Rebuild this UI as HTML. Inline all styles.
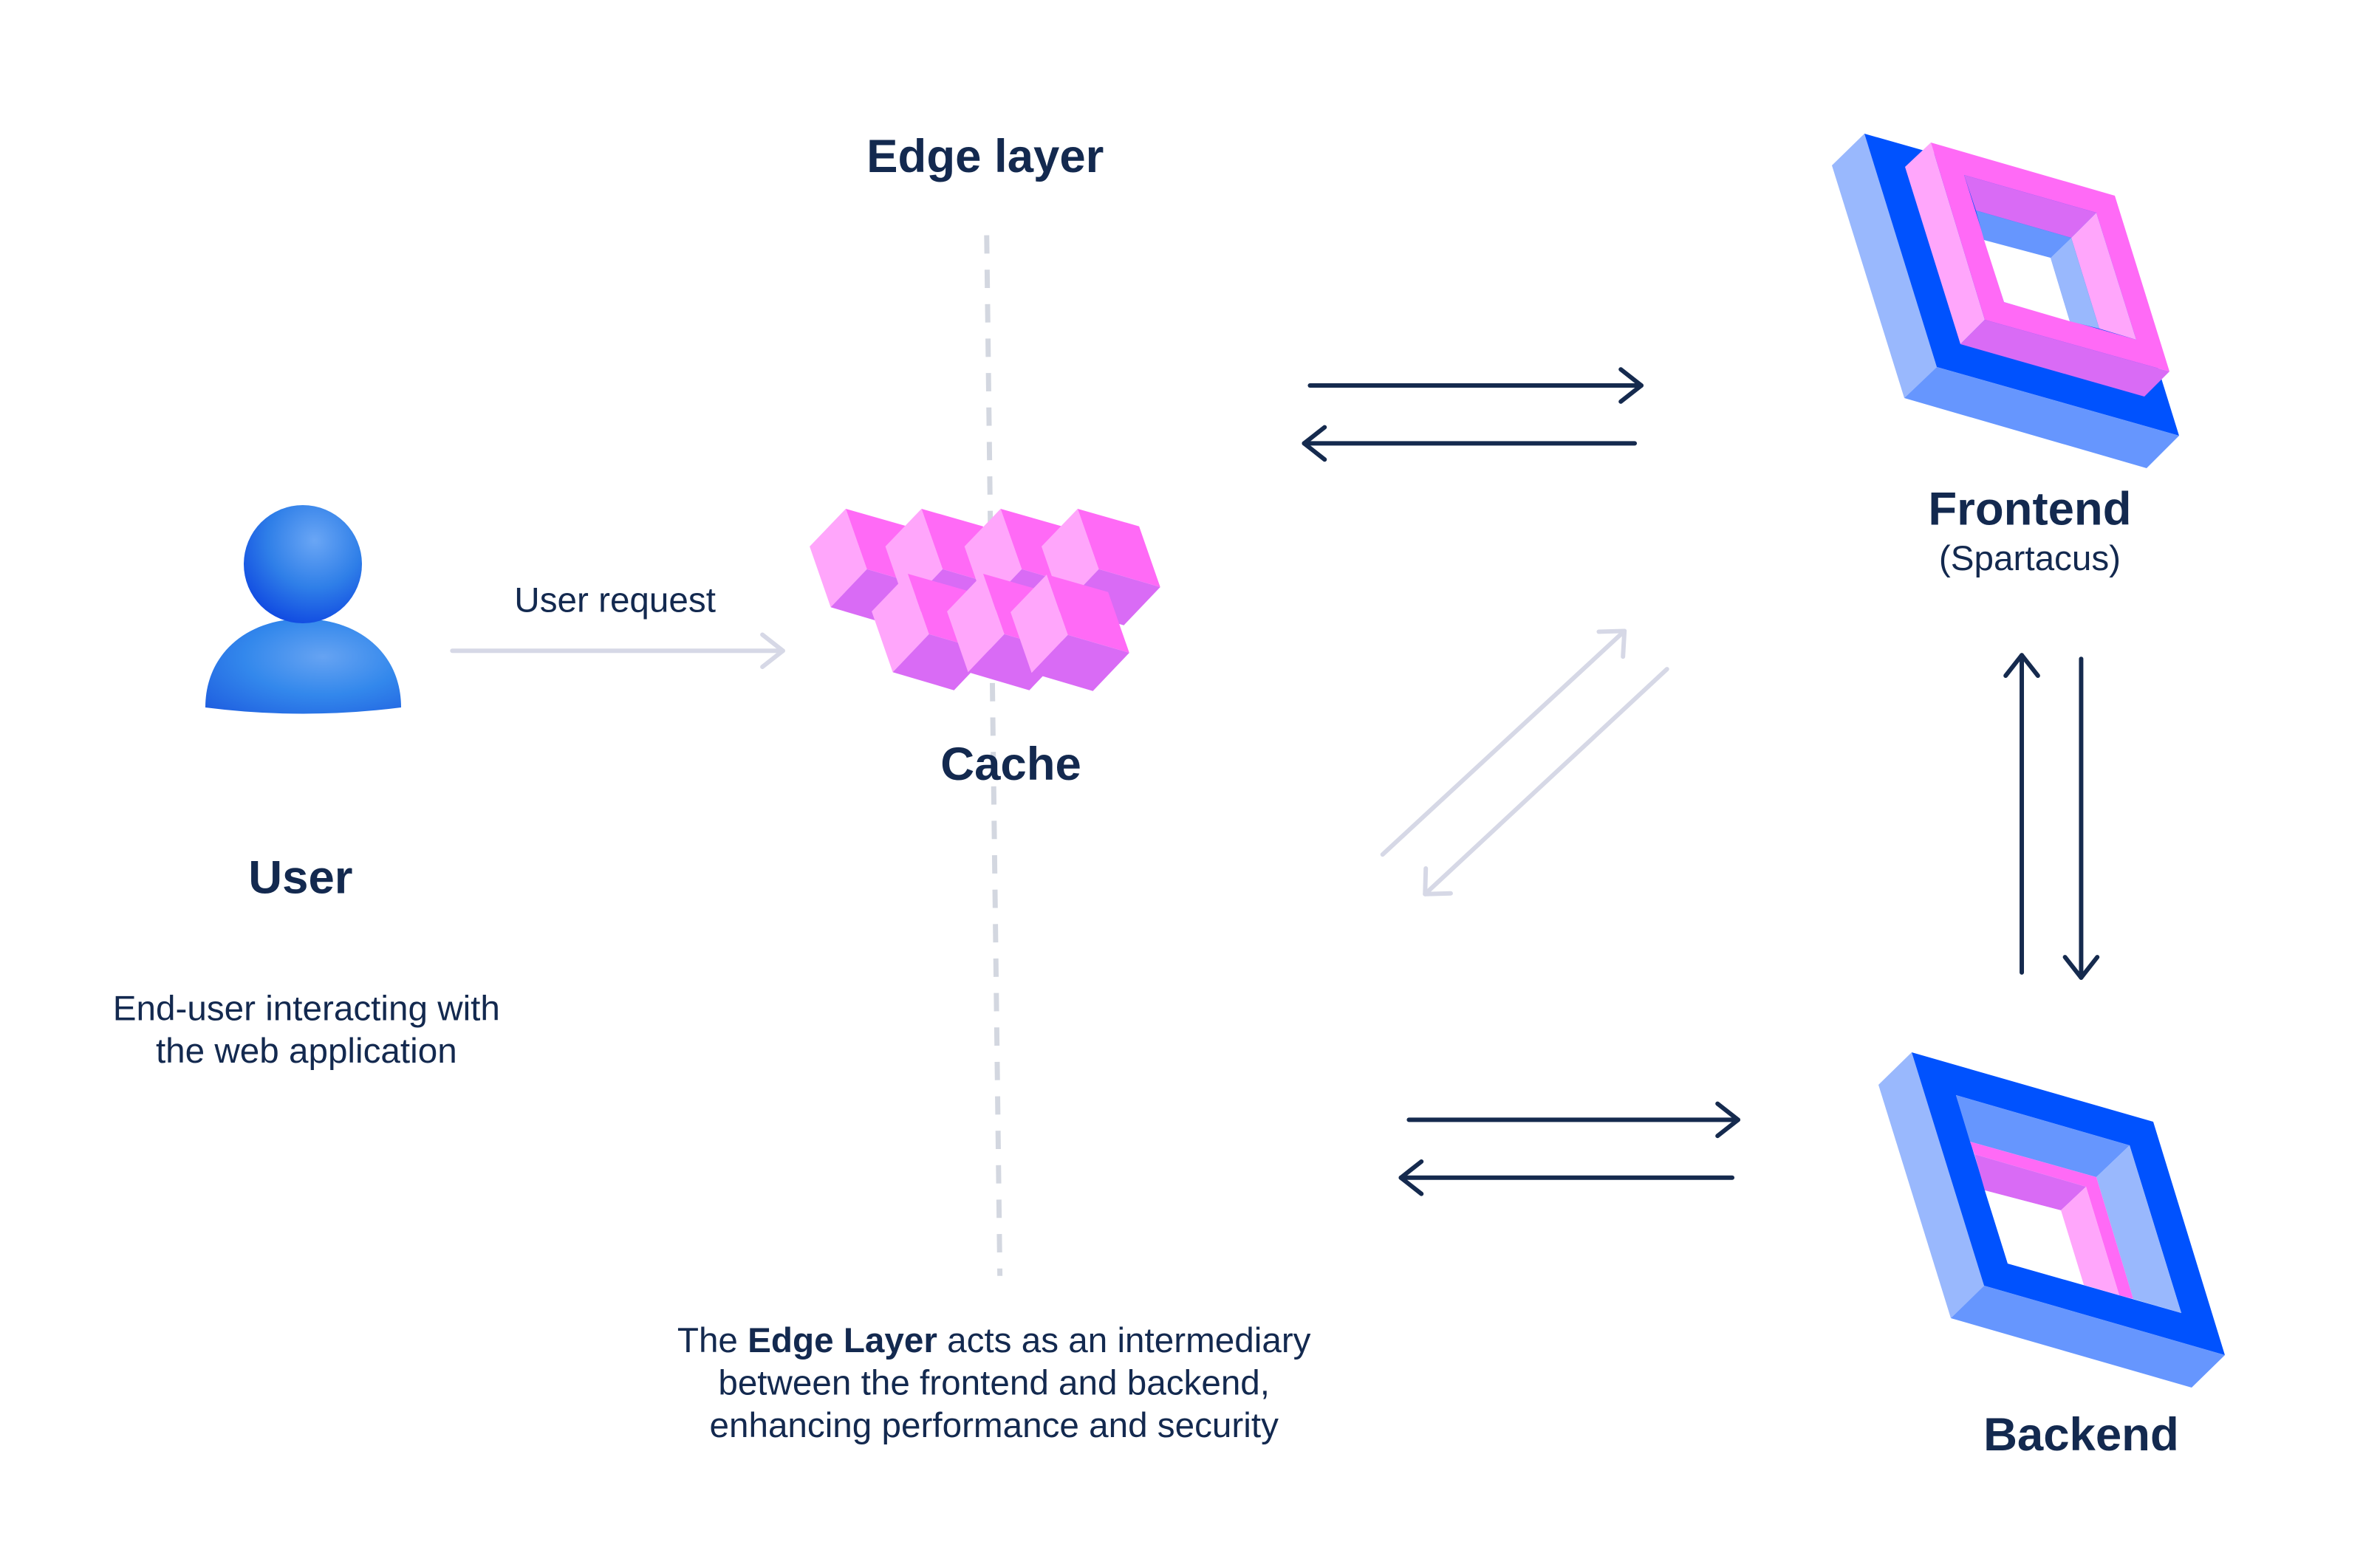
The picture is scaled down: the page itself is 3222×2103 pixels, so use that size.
<!DOCTYPE html>
<html><head><meta charset="utf-8"><style>
html,body{margin:0;padding:0;background:#fff}
svg{display:block}
text{font-family:"Liberation Sans",sans-serif;fill:#13294f}
</style></head><body>
<svg width="3222" height="2103" viewBox="0 0 3222 2103" xmlns="http://www.w3.org/2000/svg">
<defs>
<radialGradient id="hg" cx="0.6" cy="0.3" r="0.8"><stop offset="0" stop-color="#6aa6f5"/><stop offset="0.5" stop-color="#2f7fe8"/><stop offset="1" stop-color="#0a3fe0"/></radialGradient>
<radialGradient id="bg" cx="0.6" cy="0.4" r="0.8"><stop offset="0" stop-color="#66a3f2"/><stop offset="0.5" stop-color="#3388ec"/><stop offset="1" stop-color="#1f5fe0"/></radialGradient>
<g id="cube">
<polygon points="0,0 -48.9,51 -20.4,133.3 28.6,81.7" fill="#ffa6fb"/>
<polygon points="0,0 83.2,23.7 111.8,106 28.6,81.7" fill="#ff6af6"/>
<polygon points="28.6,81.7 111.8,106 62.5,157.7 -20.4,133.3" fill="#d96bf5"/>
</g>
</defs>

<g transform="scale(0.9924)">
<line x1="1346" y1="321" x2="1364" y2="1741" stroke="#d3d7e0" stroke-width="7" stroke-dasharray="25 22"/>
</g>

<!-- user -->
<path d="M278,958 C278,885 335,838 410,838 C486,838 543,885 543,958 Q410,975 278,958 Z" fill="url(#bg)"/>
<circle cx="410" cy="764" r="80" fill="url(#hg)"/>

<!-- cache cubes -->
<use href="#cube" x="1145" y="689"/>
<use href="#cube" x="1247.5" y="689"/>
<use href="#cube" x="1354.6" y="689"/>
<use href="#cube" x="1458.9" y="689"/>
<use href="#cube" x="1229" y="777"/>
<use href="#cube" x="1331" y="777"/>
<use href="#cube" x="1417" y="778"/>

<!-- frontend -->
<polygon points="2480,224 2524,181 2622,497 2578,539" fill="#99b8fd"/>
<polygon points="2524,181 2852,274 2950,590 2622,497" fill="#0052fe"/>
<polygon points="2622,497 2950,590 2906,634 2578,539" fill="#6696fe"/>
<polygon points="2579,226 2614,193 2687,433 2654,466" fill="#ffa6fb"/>
<polygon points="2654,466 2687,433 2937,503 2903,537" fill="#d96bf5"/>
<polygon fill-rule="evenodd" points="2614,193 2863,265 2937,503 2687,433 2614,193 2659,237 2713,409 2892,460 2838,288 2659,237" fill="#ff6af6"/>
<polygon points="2659,237 2838,288 2804,322 2675,285" fill="#d96bf5"/>
<polygon points="2838,288 2892,460 2842,445 2804,322" fill="#ffa6fb"/>
<polygon points="2675,285 2804,322 2776,349 2686,325" fill="#6696fe"/>
<polygon points="2804,322 2842,445 2802,435 2776,349" fill="#99b8fd"/>
<polygon points="2686,325 2776,349 2802,435 2713,409" fill="#fff"/>

<!-- backend -->
<polygon points="2543,1469 2588,1425 2686,1741 2641,1785" fill="#99b8fd"/>
<polygon fill-rule="evenodd" points="2588,1425 2915,1519 3012,1835 2686,1741 2588,1425 2648,1483 2718,1711 2953,1778 2883,1551 2648,1483" fill="#0052fe"/>
<polygon points="2686,1741 3012,1835 2967,1879 2641,1785" fill="#6696fe"/>
<polygon points="2648,1483 2883,1551 2838,1594 2667,1546" fill="#6696fe"/>
<polygon points="2883,1551 2953,1778 2888,1759 2838,1594" fill="#99b8fd"/>
<polygon points="2667,1546 2838,1594 2888,1759 2869,1754 2824,1607 2673,1563" fill="#ff6af6"/>
<polygon points="2673,1563 2824,1607 2790,1639 2687,1612" fill="#d96bf5"/>
<polygon points="2824,1607 2869,1754 2821,1740 2790,1639" fill="#ffa6fb"/>
<polygon points="2687,1612 2790,1639 2821,1740 2718,1711" fill="#fff"/>

<g transform="scale(0.9924)">
<g stroke="#d6d8e6" stroke-width="6" fill="none" stroke-linecap="round" stroke-linejoin="round">
<line x1="617" y1="888" x2="1068" y2="888"/><polyline points="1040,866 1068,888 1040,910"/>
<line x1="1886" y1="1166" x2="2216" y2="861"/><polyline points="2181,862 2216,861 2214,896"/>
<line x1="2274" y1="913" x2="1944" y2="1220"/><polyline points="1945,1185 1944,1220 1979,1219"/>
</g>
<g stroke="#152a4e" stroke-width="6" fill="none" stroke-linecap="round" stroke-linejoin="round">
<line x1="1787" y1="526" x2="2239" y2="526"/><polyline points="2211,504 2239,526 2211,548"/>
<line x1="2230" y1="605" x2="1779" y2="605"/><polyline points="1807,583 1779,605 1807,627"/>
<line x1="1922" y1="1528" x2="2371" y2="1528"/><polyline points="2343,1506 2371,1528 2343,1550"/>
<line x1="2363" y1="1607" x2="1911" y2="1607"/><polyline points="1939,1585 1911,1607 1939,1629"/>
<line x1="2758" y1="1327" x2="2758" y2="894"/><polyline points="2736,922 2758,894 2780,922"/>
<line x1="2839" y1="899" x2="2839" y2="1334"/><polyline points="2817,1306 2839,1334 2861,1306"/>
</g>
<g text-anchor="middle">
<text x="1344" y="235" font-size="64" font-weight="bold">Edge layer</text>
<text x="2769" y="716" font-size="64" font-weight="bold">Frontend</text>
<text x="2769" y="778" font-size="48">(Spartacus)</text>
<text x="1379" y="1064" font-size="64" font-weight="bold">Cache</text>
<text x="410" y="1219" font-size="64" font-weight="bold">User</text>
<text x="2839" y="1979" font-size="64" font-weight="bold">Backend</text>
<text x="839" y="835" font-size="48">User request</text>
<text x="418" y="1392" font-size="48">End-user interacting with</text>
<text x="418" y="1450" font-size="48">the web application</text>
<text x="1356" y="1845" font-size="48">The <tspan font-weight="bold">Edge Layer</tspan> acts as an intermediary</text>
<text x="1356" y="1903" font-size="48">between the frontend and backend,</text>
<text x="1356" y="1961" font-size="48">enhancing performance and security</text>
</g>
</g>
</svg>
</body></html>
